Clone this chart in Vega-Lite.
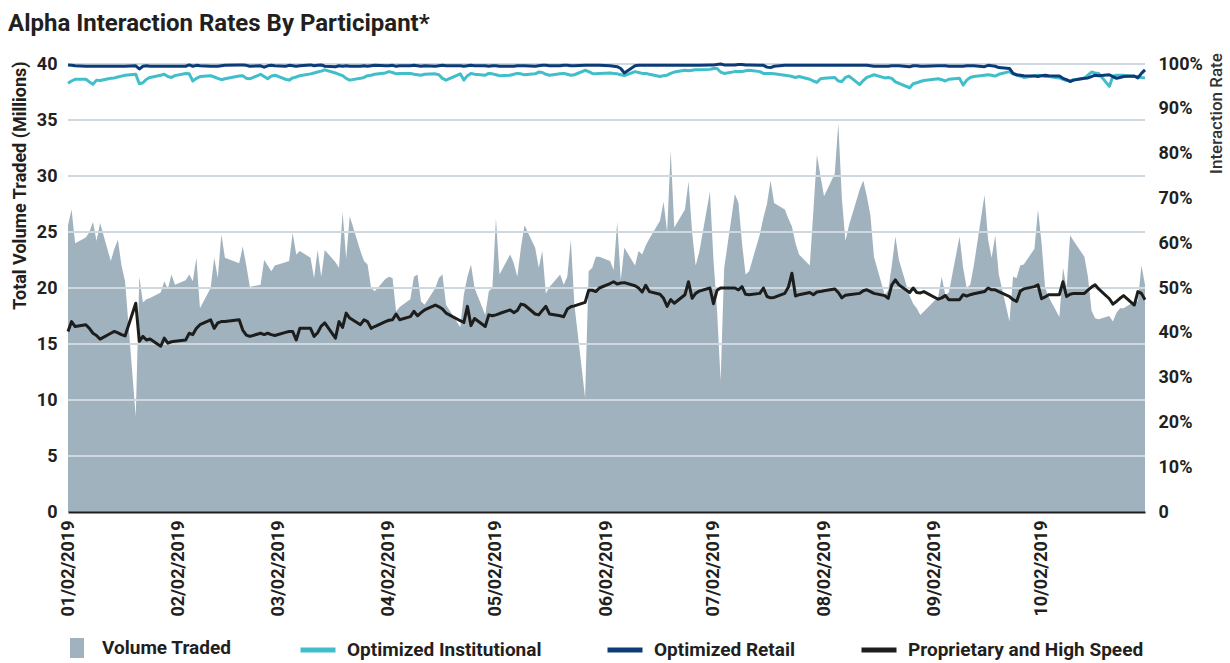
{
  "$schema": "https://vega.github.io/schema/vega-lite/v6.json",
  "width": 1077,
  "height": 448,
  "autosize": {"type": "none"},
  "padding": {"left": 68, "top": 64, "right": 85, "bottom": 151},
  "background": "white",
  "title": {"text": "Alpha Interaction Rates By Participant*", "anchor": "start", "frame": "bounds", "font": "Roboto", "fontSize": 24, "fontWeight": "bold", "color": "#231f20", "dy": -13, "dx": -3},
  "data": {"values": [
    {"d":"2019-01-02","v":25.6,"oi":95.7,"or":99.8,"p":40.3},
    {"d":"2019-01-03","v":27.0,"oi":96.2,"or":99.7,"p":42.5},
    {"d":"2019-01-04","v":24.0,"oi":96.6,"or":99.6,"p":41.4},
    {"d":"2019-01-07","v":24.5,"oi":96.6,"or":99.5,"p":41.8},
    {"d":"2019-01-08","v":25.0,"oi":96.0,"or":99.5,"p":41.0},
    {"d":"2019-01-09","v":25.9,"oi":95.5,"or":99.5,"p":39.9},
    {"d":"2019-01-10","v":24.2,"oi":96.4,"or":99.5,"p":39.4},
    {"d":"2019-01-11","v":25.8,"oi":96.3,"or":99.5,"p":38.6},
    {"d":"2019-01-14","v":22.4,"oi":96.8,"or":99.5,"p":39.9},
    {"d":"2019-01-15","v":23.5,"oi":96.9,"or":99.5,"p":40.3},
    {"d":"2019-01-16","v":24.3,"oi":97.1,"or":99.5,"p":40.0},
    {"d":"2019-01-17","v":22.0,"oi":97.3,"or":99.5,"p":39.6},
    {"d":"2019-01-18","v":20.6,"oi":97.5,"or":99.5,"p":39.3},
    {"d":"2019-01-21","v":8.5,"oi":97.7,"or":99.6,"p":46.6},
    {"d":"2019-01-22","v":21.0,"oi":95.6,"or":98.9,"p":38.1},
    {"d":"2019-01-23","v":18.7,"oi":95.8,"or":99.5,"p":39.2},
    {"d":"2019-01-24","v":19.0,"oi":96.6,"or":99.6,"p":38.4},
    {"d":"2019-01-25","v":19.1,"oi":97.0,"or":99.5,"p":38.6},
    {"d":"2019-01-28","v":19.6,"oi":97.5,"or":99.5,"p":37.0},
    {"d":"2019-01-29","v":20.6,"oi":97.7,"or":99.5,"p":38.8},
    {"d":"2019-01-30","v":19.9,"oi":97.2,"or":99.5,"p":37.7},
    {"d":"2019-01-31","v":21.2,"oi":97.0,"or":99.5,"p":38.0},
    {"d":"2019-02-01","v":20.3,"oi":97.4,"or":99.5,"p":38.1},
    {"d":"2019-02-04","v":20.7,"oi":97.9,"or":99.5,"p":38.4},
    {"d":"2019-02-05","v":21.2,"oi":97.8,"or":99.8,"p":39.9},
    {"d":"2019-02-06","v":20.6,"oi":96.2,"or":99.5,"p":39.6},
    {"d":"2019-02-07","v":22.7,"oi":96.8,"or":99.7,"p":41.0},
    {"d":"2019-02-08","v":18.2,"oi":97.2,"or":99.6,"p":41.8},
    {"d":"2019-02-11","v":20.0,"oi":97.4,"or":99.5,"p":42.9},
    {"d":"2019-02-12","v":22.7,"oi":97.1,"or":99.5,"p":41.0},
    {"d":"2019-02-13","v":20.9,"oi":96.8,"or":99.5,"p":42.2},
    {"d":"2019-02-14","v":24.8,"oi":96.5,"or":99.6,"p":42.5},
    {"d":"2019-02-15","v":22.7,"oi":96.7,"or":99.7,"p":42.5},
    {"d":"2019-02-19","v":22.2,"oi":97.3,"or":99.8,"p":42.9},
    {"d":"2019-02-20","v":23.7,"oi":97.4,"or":99.8,"p":40.6},
    {"d":"2019-02-21","v":22.0,"oi":96.8,"or":99.7,"p":39.5},
    {"d":"2019-02-22","v":20.1,"oi":96.7,"or":99.5,"p":39.2},
    {"d":"2019-02-25","v":20.3,"oi":97.7,"or":99.6,"p":39.9},
    {"d":"2019-02-26","v":22.5,"oi":97.2,"or":99.3,"p":39.6},
    {"d":"2019-02-27","v":22.0,"oi":96.7,"or":99.6,"p":39.9},
    {"d":"2019-02-28","v":21.5,"oi":97.3,"or":99.7,"p":39.6},
    {"d":"2019-03-01","v":22.0,"oi":97.5,"or":99.6,"p":39.4},
    {"d":"2019-03-04","v":22.3,"oi":96.6,"or":99.5,"p":40.1},
    {"d":"2019-03-05","v":22.4,"oi":96.4,"or":99.7,"p":40.3},
    {"d":"2019-03-06","v":24.9,"oi":96.9,"or":99.6,"p":40.3},
    {"d":"2019-03-07","v":23.0,"oi":97.1,"or":99.5,"p":38.4},
    {"d":"2019-03-08","v":23.3,"oi":97.4,"or":99.6,"p":41.0},
    {"d":"2019-03-11","v":22.7,"oi":97.8,"or":99.8,"p":41.0},
    {"d":"2019-03-12","v":20.9,"oi":98.0,"or":99.6,"p":39.2},
    {"d":"2019-03-13","v":23.4,"oi":98.2,"or":99.7,"p":40.0},
    {"d":"2019-03-14","v":21.0,"oi":98.4,"or":99.8,"p":41.5},
    {"d":"2019-03-15","v":23.4,"oi":98.7,"or":99.5,"p":42.2},
    {"d":"2019-03-18","v":22.3,"oi":98.0,"or":99.4,"p":38.8},
    {"d":"2019-03-19","v":21.8,"oi":97.7,"or":99.6,"p":42.5},
    {"d":"2019-03-20","v":26.8,"oi":97.4,"or":99.5,"p":41.2},
    {"d":"2019-03-21","v":22.6,"oi":96.8,"or":99.6,"p":44.4},
    {"d":"2019-03-22","v":26.4,"oi":96.4,"or":99.5,"p":43.3},
    {"d":"2019-03-25","v":23.3,"oi":96.8,"or":99.5,"p":41.8},
    {"d":"2019-03-26","v":22.4,"oi":97.0,"or":99.6,"p":42.9},
    {"d":"2019-03-27","v":22.1,"oi":97.4,"or":99.5,"p":42.5},
    {"d":"2019-03-28","v":20.0,"oi":97.5,"or":99.6,"p":41.0},
    {"d":"2019-03-29","v":19.7,"oi":97.7,"or":99.7,"p":41.4},
    {"d":"2019-04-01","v":20.8,"oi":98.0,"or":99.6,"p":42.5},
    {"d":"2019-04-02","v":21.0,"oi":98.3,"or":99.6,"p":42.8},
    {"d":"2019-04-03","v":20.9,"oi":98.1,"or":99.7,"p":42.9},
    {"d":"2019-04-04","v":17.9,"oi":97.8,"or":99.5,"p":44.2},
    {"d":"2019-04-05","v":18.3,"oi":97.9,"or":99.6,"p":42.9},
    {"d":"2019-04-08","v":19.0,"oi":97.9,"or":99.6,"p":43.6},
    {"d":"2019-04-09","v":21.0,"oi":97.7,"or":99.7,"p":44.8},
    {"d":"2019-04-10","v":21.2,"oi":97.6,"or":99.6,"p":43.8},
    {"d":"2019-04-11","v":18.8,"oi":97.5,"or":99.5,"p":44.5},
    {"d":"2019-04-12","v":18.5,"oi":97.7,"or":99.6,"p":45.1},
    {"d":"2019-04-15","v":20.0,"oi":97.8,"or":99.5,"p":46.2},
    {"d":"2019-04-16","v":20.9,"oi":97.6,"or":99.6,"p":45.8},
    {"d":"2019-04-17","v":21.2,"oi":96.8,"or":99.7,"p":45.3},
    {"d":"2019-04-18","v":18.5,"oi":96.4,"or":99.6,"p":44.4},
    {"d":"2019-04-22","v":16.5,"oi":97.8,"or":99.6,"p":42.7},
    {"d":"2019-04-23","v":19.4,"oi":96.4,"or":99.5,"p":42.3},
    {"d":"2019-04-24","v":21.0,"oi":97.4,"or":99.6,"p":45.9},
    {"d":"2019-04-25","v":22.1,"oi":97.9,"or":99.7,"p":41.6},
    {"d":"2019-04-26","v":20.0,"oi":97.7,"or":99.6,"p":43.2},
    {"d":"2019-04-29","v":17.6,"oi":97.5,"or":99.6,"p":41.4},
    {"d":"2019-04-30","v":19.7,"oi":97.9,"or":99.5,"p":44.0},
    {"d":"2019-05-01","v":20.0,"oi":97.8,"or":99.6,"p":43.8},
    {"d":"2019-05-02","v":26.2,"oi":97.6,"or":99.6,"p":44.0},
    {"d":"2019-05-03","v":21.2,"oi":97.4,"or":99.5,"p":44.3},
    {"d":"2019-05-06","v":23.0,"oi":97.5,"or":99.5,"p":45.1},
    {"d":"2019-05-07","v":22.2,"oi":97.7,"or":99.5,"p":44.5},
    {"d":"2019-05-08","v":21.0,"oi":97.9,"or":99.6,"p":45.0},
    {"d":"2019-05-09","v":23.6,"oi":97.8,"or":99.6,"p":46.4},
    {"d":"2019-05-10","v":25.6,"oi":97.6,"or":99.6,"p":46.2},
    {"d":"2019-05-13","v":23.6,"oi":97.8,"or":99.5,"p":44.2},
    {"d":"2019-05-14","v":21.8,"oi":98.2,"or":99.6,"p":44.0},
    {"d":"2019-05-15","v":23.3,"oi":98.1,"or":99.7,"p":45.0},
    {"d":"2019-05-16","v":19.5,"oi":97.7,"or":99.7,"p":45.9},
    {"d":"2019-05-17","v":20.1,"oi":97.5,"or":99.6,"p":44.2},
    {"d":"2019-05-20","v":21.2,"oi":97.8,"or":99.6,"p":43.8},
    {"d":"2019-05-21","v":20.3,"oi":97.9,"or":99.7,"p":43.6},
    {"d":"2019-05-22","v":21.0,"oi":97.7,"or":99.7,"p":45.3},
    {"d":"2019-05-23","v":24.3,"oi":97.5,"or":99.6,"p":45.8},
    {"d":"2019-05-24","v":18.5,"oi":97.6,"or":99.6,"p":46.0},
    {"d":"2019-05-27","v":10.2,"oi":98.6,"or":99.7,"p":46.8},
    {"d":"2019-05-28","v":21.5,"oi":98.3,"or":99.7,"p":49.5},
    {"d":"2019-05-29","v":21.8,"oi":97.9,"or":99.7,"p":49.5},
    {"d":"2019-05-30","v":22.8,"oi":97.8,"or":99.7,"p":49.2},
    {"d":"2019-05-31","v":22.8,"oi":97.9,"or":99.7,"p":50.0},
    {"d":"2019-06-03","v":22.4,"oi":98.0,"or":99.6,"p":51.0},
    {"d":"2019-06-04","v":21.6,"oi":97.9,"or":99.5,"p":51.4},
    {"d":"2019-06-05","v":25.9,"oi":97.8,"or":99.4,"p":50.9},
    {"d":"2019-06-06","v":20.7,"oi":97.6,"or":99.0,"p":51.1},
    {"d":"2019-06-07","v":23.6,"oi":97.4,"or":98.0,"p":51.2},
    {"d":"2019-06-10","v":22.0,"oi":98.3,"or":99.6,"p":50.5},
    {"d":"2019-06-11","v":23.3,"oi":98.1,"or":99.7,"p":50.0},
    {"d":"2019-06-12","v":23.0,"oi":97.9,"or":99.7,"p":49.1},
    {"d":"2019-06-13","v":23.8,"oi":97.9,"or":99.7,"p":50.6},
    {"d":"2019-06-14","v":24.4,"oi":97.7,"or":99.7,"p":49.2},
    {"d":"2019-06-17","v":26.0,"oi":97.2,"or":99.7,"p":48.6},
    {"d":"2019-06-18","v":27.7,"oi":97.4,"or":99.7,"p":47.7},
    {"d":"2019-06-19","v":25.0,"oi":97.5,"or":99.7,"p":45.9},
    {"d":"2019-06-20","v":32.3,"oi":97.9,"or":99.7,"p":47.4},
    {"d":"2019-06-21","v":25.4,"oi":98.2,"or":99.7,"p":46.6},
    {"d":"2019-06-24","v":27.0,"oi":98.6,"or":99.7,"p":48.5},
    {"d":"2019-06-25","v":29.5,"oi":98.5,"or":99.7,"p":51.4},
    {"d":"2019-06-26","v":25.0,"oi":98.6,"or":99.7,"p":47.7},
    {"d":"2019-06-27","v":22.0,"oi":98.7,"or":99.7,"p":48.8},
    {"d":"2019-06-28","v":23.2,"oi":98.7,"or":99.7,"p":49.3},
    {"d":"2019-07-01","v":28.6,"oi":98.8,"or":99.8,"p":50.0},
    {"d":"2019-07-02","v":22.5,"oi":99.0,"or":99.8,"p":46.5},
    {"d":"2019-07-03","v":18.0,"oi":99.0,"or":99.9,"p":49.5},
    {"d":"2019-07-04","v":11.7,"oi":98.2,"or":100.0,"p":50.0},
    {"d":"2019-07-05","v":21.8,"oi":97.9,"or":99.8,"p":50.0},
    {"d":"2019-07-08","v":28.4,"oi":98.3,"or":99.8,"p":50.0},
    {"d":"2019-07-09","v":27.6,"oi":98.3,"or":99.9,"p":49.6},
    {"d":"2019-07-10","v":24.0,"oi":98.3,"or":99.9,"p":50.3},
    {"d":"2019-07-11","v":21.2,"oi":98.5,"or":99.8,"p":48.6},
    {"d":"2019-07-12","v":21.5,"oi":98.6,"or":99.8,"p":48.5},
    {"d":"2019-07-15","v":24.8,"oi":98.3,"or":99.7,"p":48.8},
    {"d":"2019-07-16","v":26.3,"oi":97.9,"or":99.7,"p":50.0},
    {"d":"2019-07-17","v":27.5,"oi":97.9,"or":99.3,"p":48.1},
    {"d":"2019-07-18","v":29.6,"oi":97.9,"or":99.2,"p":47.8},
    {"d":"2019-07-19","v":27.6,"oi":97.8,"or":99.5,"p":47.9},
    {"d":"2019-07-22","v":27.0,"oi":97.5,"or":99.7,"p":48.8},
    {"d":"2019-07-23","v":26.2,"oi":97.4,"or":99.7,"p":50.2},
    {"d":"2019-07-24","v":25.5,"oi":97.2,"or":99.7,"p":53.3},
    {"d":"2019-07-25","v":24.0,"oi":97.0,"or":99.7,"p":48.2},
    {"d":"2019-07-26","v":23.0,"oi":97.2,"or":99.7,"p":48.5},
    {"d":"2019-07-29","v":22.0,"oi":96.6,"or":99.7,"p":49.0},
    {"d":"2019-07-30","v":26.8,"oi":96.2,"or":99.7,"p":48.5},
    {"d":"2019-07-31","v":31.9,"oi":95.9,"or":99.7,"p":49.1},
    {"d":"2019-08-01","v":30.0,"oi":96.7,"or":99.7,"p":49.2},
    {"d":"2019-08-02","v":28.2,"oi":96.8,"or":99.7,"p":49.4},
    {"d":"2019-08-05","v":30.2,"oi":97.0,"or":99.7,"p":49.8},
    {"d":"2019-08-06","v":34.7,"oi":96.2,"or":99.7,"p":49.0},
    {"d":"2019-08-07","v":28.0,"oi":96.1,"or":99.7,"p":47.8},
    {"d":"2019-08-08","v":24.2,"oi":97.0,"or":99.7,"p":48.4},
    {"d":"2019-08-09","v":25.6,"oi":97.3,"or":99.7,"p":48.5},
    {"d":"2019-08-12","v":28.8,"oi":95.4,"or":99.7,"p":48.8},
    {"d":"2019-08-13","v":29.6,"oi":96.3,"or":99.7,"p":49.4},
    {"d":"2019-08-14","v":28.2,"oi":97.0,"or":99.7,"p":49.6},
    {"d":"2019-08-15","v":26.5,"oi":97.3,"or":99.6,"p":49.2},
    {"d":"2019-08-16","v":22.8,"oi":97.6,"or":99.5,"p":48.8},
    {"d":"2019-08-19","v":19.4,"oi":96.9,"or":99.5,"p":48.3},
    {"d":"2019-08-20","v":19.8,"oi":97.0,"or":99.5,"p":47.7},
    {"d":"2019-08-21","v":22.0,"oi":96.8,"or":99.6,"p":50.7},
    {"d":"2019-08-22","v":24.6,"oi":96.0,"or":99.6,"p":51.8},
    {"d":"2019-08-23","v":22.5,"oi":95.7,"or":99.6,"p":50.7},
    {"d":"2019-08-26","v":19.3,"oi":94.7,"or":99.4,"p":49.0},
    {"d":"2019-08-27","v":18.6,"oi":95.6,"or":99.6,"p":50.0},
    {"d":"2019-08-28","v":18.2,"oi":95.8,"or":99.6,"p":49.0},
    {"d":"2019-08-29","v":17.6,"oi":96.1,"or":99.5,"p":48.9},
    {"d":"2019-08-30","v":17.9,"oi":96.3,"or":99.5,"p":49.2},
    {"d":"2019-09-03","v":19.2,"oi":96.7,"or":99.6,"p":47.5},
    {"d":"2019-09-04","v":21.0,"oi":96.5,"or":99.6,"p":47.8},
    {"d":"2019-09-05","v":19.4,"oi":96.2,"or":99.6,"p":48.3},
    {"d":"2019-09-06","v":19.6,"oi":96.6,"or":99.5,"p":47.4},
    {"d":"2019-09-09","v":24.6,"oi":96.8,"or":99.5,"p":47.4},
    {"d":"2019-09-10","v":21.8,"oi":95.3,"or":99.5,"p":48.5},
    {"d":"2019-09-11","v":20.0,"oi":96.4,"or":99.6,"p":48.2},
    {"d":"2019-09-12","v":20.3,"oi":97.0,"or":99.6,"p":48.5},
    {"d":"2019-09-13","v":22.0,"oi":97.2,"or":99.6,"p":48.7},
    {"d":"2019-09-16","v":28.3,"oi":97.5,"or":99.4,"p":49.2},
    {"d":"2019-09-17","v":24.3,"oi":97.6,"or":99.7,"p":50.0},
    {"d":"2019-09-18","v":22.7,"oi":97.5,"or":99.6,"p":49.6},
    {"d":"2019-09-19","v":24.7,"oi":97.3,"or":99.5,"p":49.6},
    {"d":"2019-09-20","v":21.2,"oi":97.7,"or":99.2,"p":49.2},
    {"d":"2019-09-23","v":17.0,"oi":98.3,"or":99.0,"p":48.1},
    {"d":"2019-09-24","v":21.0,"oi":97.8,"or":97.9,"p":47.4},
    {"d":"2019-09-25","v":20.9,"oi":97.5,"or":97.6,"p":47.0},
    {"d":"2019-09-26","v":22.0,"oi":97.3,"or":97.5,"p":49.3},
    {"d":"2019-09-27","v":22.1,"oi":97.0,"or":97.4,"p":49.8},
    {"d":"2019-09-30","v":23.5,"oi":97.4,"or":97.3,"p":50.3},
    {"d":"2019-10-01","v":27.0,"oi":97.5,"or":97.2,"p":50.7},
    {"d":"2019-10-02","v":24.0,"oi":97.4,"or":97.4,"p":47.6},
    {"d":"2019-10-03","v":20.0,"oi":97.2,"or":97.5,"p":48.0},
    {"d":"2019-10-04","v":19.2,"oi":97.2,"or":97.4,"p":48.5},
    {"d":"2019-10-07","v":17.4,"oi":96.9,"or":97.3,"p":48.5},
    {"d":"2019-10-08","v":21.8,"oi":96.6,"or":96.8,"p":51.4},
    {"d":"2019-10-09","v":20.0,"oi":96.3,"or":96.5,"p":48.1},
    {"d":"2019-10-10","v":24.7,"oi":96.2,"or":96.1,"p":48.6},
    {"d":"2019-10-11","v":24.2,"oi":96.5,"or":96.4,"p":48.8},
    {"d":"2019-10-14","v":22.8,"oi":96.8,"or":96.8,"p":48.8},
    {"d":"2019-10-15","v":21.0,"oi":97.5,"or":96.9,"p":49.5},
    {"d":"2019-10-16","v":18.0,"oi":98.2,"or":97.2,"p":50.2},
    {"d":"2019-10-17","v":17.3,"oi":98.0,"or":97.5,"p":50.7},
    {"d":"2019-10-18","v":17.2,"oi":97.9,"or":97.4,"p":49.8},
    {"d":"2019-10-21","v":17.5,"oi":95.0,"or":97.6,"p":47.6},
    {"d":"2019-10-22","v":17.0,"oi":97.3,"or":97.2,"p":46.4},
    {"d":"2019-10-23","v":17.8,"oi":97.5,"or":96.8,"p":47.0},
    {"d":"2019-10-24","v":18.2,"oi":97.5,"or":97.0,"p":47.7},
    {"d":"2019-10-25","v":18.2,"oi":97.5,"or":97.2,"p":48.3},
    {"d":"2019-10-28","v":18.8,"oi":97.2,"or":97.3,"p":46.2},
    {"d":"2019-10-29","v":18.8,"oi":97.2,"or":96.9,"p":49.2},
    {"d":"2019-10-30","v":22.0,"oi":97.0,"or":97.9,"p":48.8},
    {"d":"2019-10-31","v":20.3,"oi":96.9,"or":98.7,"p":47.4}
  ]},
  "layer": [
    {
      "layer": [
        {
          "mark": {"type": "area", "interpolate": "linear"},
          "encoding": {
            "x": {
              "field": "d", "type": "temporal",
              "scale": {"type": "utc", "domain": [{"year": 2019, "month": 1, "date": 2, "utc": true}, {"year": 2019, "month": 10, "date": 31, "utc": true}]},
              "axis": {
                "values": [
                  {"year": 2019, "month": 1, "date": 2, "utc": true},
                  {"year": 2019, "month": 2, "date": 2, "utc": true},
                  {"year": 2019, "month": 3, "date": 2, "utc": true},
                  {"year": 2019, "month": 4, "date": 2, "utc": true},
                  {"year": 2019, "month": 5, "date": 2, "utc": true},
                  {"year": 2019, "month": 6, "date": 2, "utc": true},
                  {"year": 2019, "month": 7, "date": 2, "utc": true},
                  {"year": 2019, "month": 8, "date": 2, "utc": true},
                  {"year": 2019, "month": 9, "date": 2, "utc": true},
                  {"year": 2019, "month": 10, "date": 2, "utc": true}
                ],
                "format": "%m/%d/%Y",
                "labelAngle": 270,
                "labelPadding": 8,
                "ticks": false,
                "grid": false,
                "domain": true,
                "domainColor": "#231f20",
                "domainWidth": 2,
                "labelFontSize": 18,
                "labelFlush": false,
                "labelOverlap": false,
                "title": null,
                "zindex": 1
              }
            },
            "y": {
              "field": "v", "type": "quantitative",
              "scale": {"domain": [0, 40], "nice": false},
              "axis": {
                "orient": "left",
                "values": [0, 5, 10, 15, 20, 25, 30, 35, 40],
                "grid": false,
                "domain": false,
                "ticks": false,
                "labelPadding": 11,
                "labelFontSize": 18,
                "title": "Total Volume Traded (Millions)",
                "titleFontSize": 18,
                "titleFontWeight": "bold",
                "titleColor": "#231f20",
                "titleAngle": 270,
                "titleX": -48,
                "titleY": 121,
                "titleAlign": "center",
                "titleBaseline": "middle"
              }
            },
            "fill": {
              "datum": "Volume Traded", "type": "nominal",
              "scale": {"range": ["#a0b2be"]},
              "legend": {
                "orient": "none", "legendX": -1, "legendY": 574,
                "title": null, "padding": 0,
                "symbolType": "M-0.7,-1H0.7V1H-0.7Z",
                "symbolSize": 400,
                "symbolStrokeWidth": 0,
                "labelOffset": 15,
                "labelFontSize": 19,
                "labelLimit": 400
              }
            }
          }
        },
        {"data": {"values": [{}]}, "mark": {"type": "rule", "color": "#cfd8df", "strokeWidth": 2}, "encoding": {"y": {"datum": 5, "type": "quantitative"}}},
        {"data": {"values": [{}]}, "mark": {"type": "rule", "color": "#cfd8df", "strokeWidth": 2}, "encoding": {"y": {"datum": 10, "type": "quantitative"}}},
        {"data": {"values": [{}]}, "mark": {"type": "rule", "color": "#cfd8df", "strokeWidth": 2}, "encoding": {"y": {"datum": 15, "type": "quantitative"}}},
        {"data": {"values": [{}]}, "mark": {"type": "rule", "color": "#cfd8df", "strokeWidth": 2}, "encoding": {"y": {"datum": 20, "type": "quantitative"}}},
        {"data": {"values": [{}]}, "mark": {"type": "rule", "color": "#cfd8df", "strokeWidth": 2}, "encoding": {"y": {"datum": 25, "type": "quantitative"}}},
        {"data": {"values": [{}]}, "mark": {"type": "rule", "color": "#cfd8df", "strokeWidth": 2}, "encoding": {"y": {"datum": 30, "type": "quantitative"}}},
        {"data": {"values": [{}]}, "mark": {"type": "rule", "color": "#cfd8df", "strokeWidth": 2}, "encoding": {"y": {"datum": 35, "type": "quantitative"}}},
        {"data": {"values": [{}]}, "mark": {"type": "rule", "color": "#cfd8df", "strokeWidth": 2}, "encoding": {"y": {"datum": 40, "type": "quantitative"}}}
      ]
    },
    {
      "transform": [{"fold": ["oi", "or", "p"], "as": ["key", "val"]}],
      "mark": {"type": "line", "strokeWidth": 3, "strokeJoin": "round", "interpolate": "linear"},
      "encoding": {
        "x": {
          "field": "d", "type": "temporal",
          "scale": {"type": "utc", "domain": [{"year": 2019, "month": 1, "date": 2, "utc": true}, {"year": 2019, "month": 10, "date": 31, "utc": true}]},
          "axis": {
            "values": [
              {"year": 2019, "month": 1, "date": 2, "utc": true},
              {"year": 2019, "month": 2, "date": 2, "utc": true},
              {"year": 2019, "month": 3, "date": 2, "utc": true},
              {"year": 2019, "month": 4, "date": 2, "utc": true},
              {"year": 2019, "month": 5, "date": 2, "utc": true},
              {"year": 2019, "month": 6, "date": 2, "utc": true},
              {"year": 2019, "month": 7, "date": 2, "utc": true},
              {"year": 2019, "month": 8, "date": 2, "utc": true},
              {"year": 2019, "month": 9, "date": 2, "utc": true},
              {"year": 2019, "month": 10, "date": 2, "utc": true}
            ],
            "format": "%m/%d/%Y",
            "labelAngle": 270,
            "labelPadding": 8,
            "ticks": false,
            "grid": false,
            "domain": true,
            "domainColor": "#231f20",
            "domainWidth": 2,
            "labelFontSize": 18,
            "labelFlush": false,
            "labelOverlap": false,
            "title": null,
            "zindex": 1
          }
        },
        "y": {
          "field": "val", "type": "quantitative",
          "scale": {"domain": [0, 100], "nice": false},
          "axis": {
            "orient": "right",
            "values": [0, 10, 20, 30, 40, 50, 60, 70, 80, 90, 100],
            "labelExpr": "datum.value == 0 ? '0' : datum.value + '%'",
            "grid": false,
            "domain": false,
            "ticks": false,
            "labelPadding": 13,
            "labelFontSize": 18,
            "title": "Interaction Rate",
            "titleFontSize": 17,
            "titleFontWeight": 500,
            "titleColor": "#333333",
            "titleAngle": 270,
            "titleX": 71,
            "titleY": 49,
            "titleAlign": "center",
            "titleBaseline": "middle"
          }
        },
        "stroke": {
          "field": "key", "type": "nominal",
          "scale": {"domain": ["oi", "or", "p"], "range": ["#40bec9", "#0c3c78", "#1d1d1b"]},
          "legend": {
            "orient": "none", "legendX": 230, "legendY": 566,
            "direction": "horizontal",
            "title": null, "padding": 0,
            "symbolType": "stroke",
            "symbolSize": 1225,
            "symbolStrokeWidth": 5,
            "labelOffset": 9,
            "columnPadding": 55,
            "labelFontSize": 19,
            "labelLimit": 400,
            "labelExpr": "datum.label == 'oi' ? 'Optimized Institutional' : datum.label == 'or' ? 'Optimized Retail' : 'Proprietary and High Speed'"
          }
        }
      }
    }
  ],
  "resolve": {"scale": {"y": "independent"}, "axis": {"y": "independent"}},
  "config": {
    "view": {"stroke": null},
    "font": "Roboto",
    "axis": {"labelFont": "Roboto", "labelFontWeight": "bold", "labelColor": "#231f20", "titleFont": "Roboto"},
    "legend": {"labelFont": "Roboto", "labelFontWeight": "bold", "labelColor": "#231f20"}
  }
}
